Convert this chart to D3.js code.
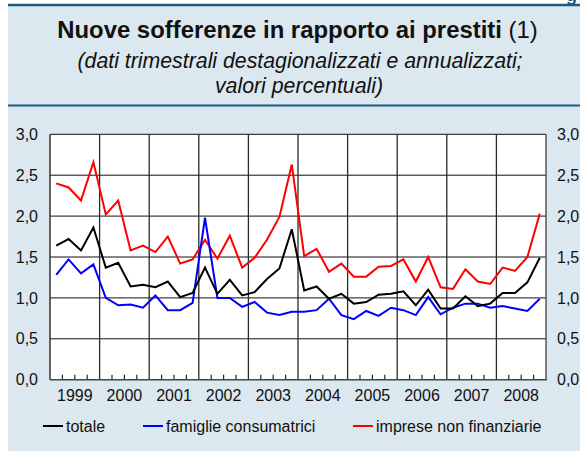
<!DOCTYPE html>
<html>
<head>
<meta charset="utf-8">
<script src="https://cdn.jsdelivr.net/npm/d3@7"></script>
<style>
  body { margin: 0; background: #fff; }
  svg { display: block; font-family: "Liberation Sans", Arial, sans-serif; }
</style>
</head>
<body>
<script>
// quarterly data 1999Q1 - 2008Q4
var years = ["1999", "2000", "2001", "2002", "2003", "2004", "2005", "2006", "2007", "2008"];
var quarters = [];
years.forEach(function(y) { [1, 2, 3, 4].forEach(function(q) { quarters.push(y + "Q" + q); }); });

var totale = [1.64, 1.72, 1.58, 1.86, 1.37, 1.43, 1.14, 1.16, 1.13, 1.20,
              1.01, 1.06, 1.37, 1.05, 1.22, 1.03, 1.07, 1.23, 1.36, 1.84,
              1.09, 1.14, 0.99, 1.05, 0.93, 0.95, 1.04, 1.05, 1.08, 0.91,
              1.10, 0.87, 0.87, 1.02, 0.90, 0.93, 1.06, 1.06, 1.19, 1.49];
var famiglie = [1.28, 1.47, 1.30, 1.41, 1.00, 0.91, 0.92, 0.88, 1.03, 0.85,
                0.85, 0.94, 1.98, 1.00, 1.00, 0.89, 0.95, 0.82, 0.79, 0.83,
                0.83, 0.85, 0.99, 0.79, 0.74, 0.84, 0.78, 0.88, 0.85, 0.79,
                1.01, 0.80, 0.88, 0.93, 0.93, 0.88, 0.90, 0.87, 0.84, 0.99];
var imprese = [2.40, 2.35, 2.19, 2.66, 2.02, 2.19, 1.58, 1.64, 1.56, 1.75,
               1.42, 1.47, 1.71, 1.48, 1.76, 1.37, 1.49, 1.71, 1.99, 2.63,
               1.51, 1.60, 1.32, 1.42, 1.26, 1.26, 1.38, 1.39, 1.47, 1.20,
               1.50, 1.13, 1.11, 1.35, 1.20, 1.17, 1.37, 1.33, 1.50, 2.03];
var yTicks = [0, 0.5, 1, 1.5, 2, 2.5, 3];

var series = [
    {name: "totale", values: totale, color: "#000000", lx: 43},
    {name: "famiglie consumatrici", values: famiglie, color: "#0000ff", lx: 143},
    {name: "imprese non finanziarie", values: imprese, color: "#ff0000", lx: 353}
];

var width = 580, height = 451;
var plotLeft = 50, plotRight = 546, plotTop = 134.3, plotBottom = 379.7;
var panelColor = "#dce8ef", lineBlue = "#1c5b80";

var it = d3.formatLocale({decimal: ",", thousands: ".", grouping: [3], currency: ["", "€"]});
var fmt = it.format(".1f");

var svg = d3.select("body").append("svg")
    .attr("width", width)
    .attr("height", height);

// background panel
svg.append("rect").attr("x", 8).attr("y", 5).attr("width", width - 8).attr("height", height - 5)
    .attr("fill", panelColor);
svg.append("line").attr("x1", 8).attr("x2", width).attr("y1", 5).attr("y2", 5)
    .attr("stroke", lineBlue).attr("stroke-width", 2.5);
svg.append("line").attr("x1", 8).attr("x2", width).attr("y1", 105.5).attr("y2", 105.5)
    .attr("stroke", lineBlue).attr("stroke-width", 2);
// cut-off glyph at top right
svg.append("text").attr("x", 566).attr("y", 1).attr("font-size", 18).attr("font-weight", "bold")
    .attr("fill", lineBlue).text("g");

// titles
var title = svg.append("text").attr("x", 297.5).attr("y", 38).attr("text-anchor", "middle")
    .attr("font-size", 23.9).attr("fill", "#111");
title.append("tspan").attr("font-weight", "bold").text("Nuove sofferenze in rapporto ai prestiti");
title.append("tspan").text(" (1)");
svg.append("text").attr("x", 300).attr("y", 68).attr("text-anchor", "middle")
    .attr("font-size", 21.3).attr("font-style", "italic").attr("fill", "#111")
    .text("(dati trimestrali destagionalizzati e annualizzati;");
svg.append("text").attr("x", 299).attr("y", 93).attr("text-anchor", "middle")
    .attr("font-size", 21.3).attr("font-style", "italic").attr("fill", "#111")
    .text("valori percentuali)");

// scales
var x = d3.scalePoint().domain(quarters).range([plotLeft, plotRight]).padding(0.5);
var xYear = d3.scaleBand().domain(years).range([plotLeft, plotRight]);
var xq = d3.scaleBand().domain(quarters).range([plotLeft, plotRight]);
var y = d3.scaleLinear().domain([0, 3]).range([plotBottom, plotTop]);

// plot area
svg.append("rect").attr("x", plotLeft).attr("y", plotTop)
    .attr("width", plotRight - plotLeft).attr("height", plotBottom - plotTop)
    .attr("fill", "#fff");

// horizontal gridlines
svg.append("g").selectAll("line").data(yTicks.filter(function(d) { return d > 0; }))
    .enter().append("line")
    .attr("x1", plotLeft).attr("x2", plotRight)
    .attr("y1", function(d) { return y(d); }).attr("y2", function(d) { return y(d); })
    .attr("stroke", "#111").attr("stroke-width", 1);

// year separators
svg.append("g").selectAll("line").data(years.slice(1))
    .enter().append("line")
    .attr("x1", function(d) { return xYear(d); }).attr("x2", function(d) { return xYear(d); })
    .attr("y1", plotTop).attr("y2", plotBottom)
    .attr("stroke", "#2a2a2a").attr("stroke-width", 1.3);

// quarter ticks
svg.append("g").selectAll("line").data(quarters.filter(function(d) { return d.slice(4) != "Q1"; }))
    .enter().append("line")
    .attr("x1", function(d) { return xq(d); }).attr("x2", function(d) { return xq(d); })
    .attr("y1", plotBottom).attr("y2", plotBottom - 5)
    .attr("stroke", "#222").attr("stroke-width", 1.2);

// frame
svg.append("line").attr("x1", plotLeft).attr("x2", plotLeft).attr("y1", plotTop).attr("y2", plotBottom)
    .attr("stroke", "#333").attr("stroke-width", 1.5);
svg.append("line").attr("x1", plotRight).attr("x2", plotRight).attr("y1", plotTop).attr("y2", plotBottom)
    .attr("stroke", "#555").attr("stroke-width", 1.5);
svg.append("line").attr("x1", plotLeft).attr("x2", plotRight + 0.75).attr("y1", plotBottom).attr("y2", plotBottom)
    .attr("stroke", "#444").attr("stroke-width", 1.5);

// series lines
var line = d3.line()
    .x(function(d, i) { return x(quarters[i]); })
    .y(function(d) { return y(d); });

svg.append("g").selectAll("path").data(series.slice().reverse())
    .enter().append("path")
    .attr("d", function(d) { return line(d.values); })
    .attr("fill", "none")
    .attr("stroke", function(d) { return d.color; })
    .attr("stroke-width", 2)
    .attr("stroke-linejoin", "miter");

// axes labels
function styleAxis(g) {
    g.select(".domain").remove();
    g.selectAll(".tick line").remove();
    g.selectAll("text").attr("font-size", 16).attr("fill", "#111")
        .attr("font-family", "'Liberation Sans', Arial, sans-serif");
}
svg.append("g").attr("transform", "translate(" + (plotLeft - 12) + ",0)")
    .call(d3.axisLeft(y).tickValues(yTicks).tickFormat(fmt).tickSize(0).tickPadding(0))
    .call(styleAxis);
svg.append("g").attr("transform", "translate(" + (plotRight + 11) + ",0)")
    .call(d3.axisRight(y).tickValues(yTicks).tickFormat(fmt).tickSize(0).tickPadding(0))
    .call(styleAxis);
svg.append("g").attr("transform", "translate(0," + (plotBottom + 6) + ")")
    .call(d3.axisBottom(xYear).tickSize(0).tickPadding(4))
    .call(styleAxis);

// legend
var legend = svg.append("g").selectAll("g").data(series).enter().append("g")
    .attr("transform", function(d) { return "translate(" + d.lx + ",426)"; });
legend.append("line").attr("x1", 0).attr("x2", 20).attr("y1", 0).attr("y2", 0)
    .attr("stroke", function(d) { return d.color; }).attr("stroke-width", 2);
legend.append("text").attr("x", 23).attr("y", 5.5).attr("font-size", 16).attr("fill", "#111")
    .text(function(d) { return d.name; });
</script>
</body>
</html>
